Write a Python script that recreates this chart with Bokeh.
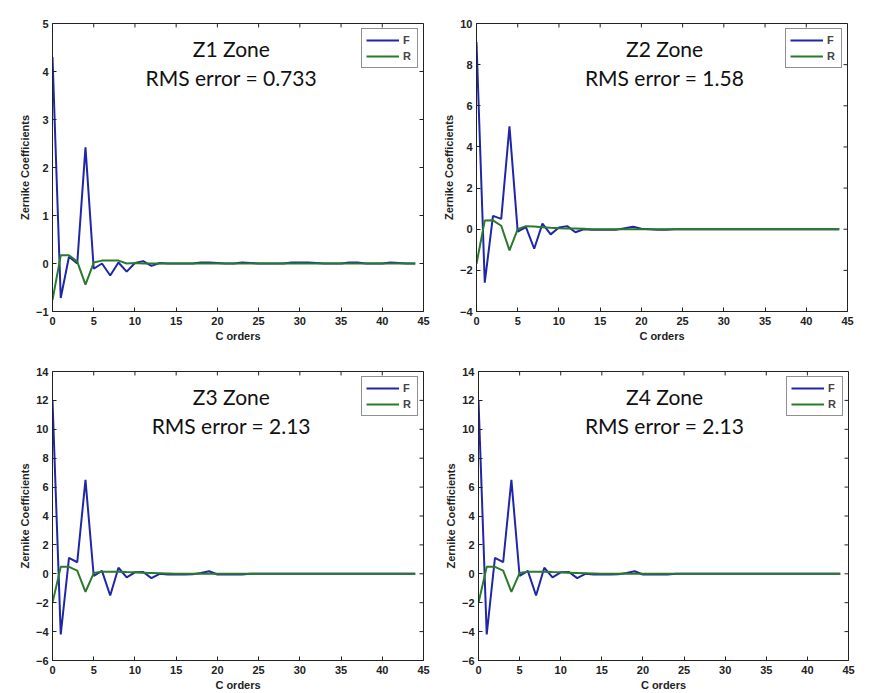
from bokeh.plotting import figure
from bokeh.layouts import column, row
from bokeh.models import Range1d, FixedTicker, Label
from bokeh.embed import file_html
from bokeh.resources import INLINE

# ---------------- data ----------------
c_orders = list(range(45))
x_ticks = [0, 5, 10, 15, 20, 25, 30, 35, 40, 45]

z1_F = [4.30, -0.72, 0.14, 0.00, 2.42, -0.11, 0.00, -0.25, 0.02, -0.17,
        0.01, 0.05, -0.05, 0.01, 0.00, 0.00, 0.00, 0.00, 0.02, 0.02,
        0.01, 0.00, 0.00, 0.02, 0.01, 0.00, 0.00, 0.00, 0.00, 0.02,
        0.02, 0.02, 0.01, 0.00, 0.00, 0.00, 0.02, 0.02, 0.00, 0.00,
        0.00, 0.02, 0.01, 0.00, 0.00]
z1_R = [-0.76, 0.17, 0.17, 0.04, -0.44, 0.02, 0.06, 0.06, 0.06, 0.00,
        0.01, 0.00, 0.00, 0.00, 0.00, 0.00, 0.00, 0.00, 0.00, 0.00,
        0.00, 0.00, 0.00, 0.00, 0.00, 0.00, 0.00, 0.00, 0.00, 0.00,
        0.00, 0.00, 0.00, 0.00, 0.00, 0.00, 0.00, 0.00, 0.00, 0.00,
        0.00, 0.00, 0.00, 0.00, 0.00]

z2_F = [9.10, -2.60, 0.65, 0.50, 5.00, -0.12, 0.10, -0.95, 0.27, -0.25,
        0.08, 0.15, -0.15, 0.00, -0.03, -0.03, -0.03, -0.02, 0.05, 0.12,
        0.02, 0.00, -0.03, -0.03, 0.00, 0.00, 0.00, 0.00, 0.00, 0.00,
        0.00, 0.00, 0.00, 0.00, 0.00, 0.00, 0.00, 0.00, 0.00, 0.00,
        0.00, 0.00, 0.00, 0.00, 0.00]
z2_R = [-1.68, 0.42, 0.43, 0.17, -1.03, 0.00, 0.15, 0.13, 0.10, 0.07,
        0.05, 0.04, 0.03, 0.02, 0.00, 0.00, 0.00, 0.00, 0.00, 0.00,
        0.00, 0.00, 0.00, 0.00, 0.00, 0.00, 0.00, 0.00, 0.00, 0.00,
        0.00, 0.00, 0.00, 0.00, 0.00, 0.00, 0.00, 0.00, 0.00, 0.00,
        0.00, 0.00, 0.00, 0.00, 0.00]

z3_F = [12.00, -4.20, 1.10, 0.80, 6.50, -0.15, 0.20, -1.50, 0.42, -0.25,
        0.10, 0.12, -0.30, 0.00, -0.05, -0.05, -0.05, -0.03, 0.05, 0.18,
        -0.05, -0.05, -0.05, -0.05, 0.00, 0.00, 0.00, 0.00, 0.00, 0.00,
        0.00, 0.00, 0.00, 0.00, 0.00, 0.00, 0.00, 0.00, 0.00, 0.00,
        0.00, 0.00, 0.00, 0.00, 0.00]
z3_R = [-2.00, 0.48, 0.48, 0.22, -1.25, 0.05, 0.15, 0.15, 0.15, 0.12,
        0.10, 0.08, 0.06, 0.04, 0.02, 0.00, 0.00, 0.00, 0.00, 0.00,
        0.00, 0.00, 0.00, 0.00, 0.00, 0.00, 0.00, 0.00, 0.00, 0.00,
        0.00, 0.00, 0.00, 0.00, 0.00, 0.00, 0.00, 0.00, 0.00, 0.00,
        0.00, 0.00, 0.00, 0.00, 0.00]

z4_F = [12.00, -4.20, 1.10, 0.80, 6.50, -0.15, 0.20, -1.50, 0.42, -0.25,
        0.10, 0.12, -0.30, 0.00, -0.05, -0.05, -0.05, -0.03, 0.05, 0.18,
        -0.05, -0.05, -0.05, -0.05, 0.00, 0.00, 0.00, 0.00, 0.00, 0.00,
        0.00, 0.00, 0.00, 0.00, 0.00, 0.00, 0.00, 0.00, 0.00, 0.00,
        0.00, 0.00, 0.00, 0.00, 0.00]
z4_R = [-2.00, 0.48, 0.48, 0.22, -1.25, 0.05, 0.15, 0.15, 0.15, 0.12,
        0.10, 0.08, 0.06, 0.04, 0.02, 0.00, 0.00, 0.00, 0.00, 0.00,
        0.00, 0.00, 0.00, 0.00, 0.00, 0.00, 0.00, 0.00, 0.00, 0.00,
        0.00, 0.00, 0.00, 0.00, 0.00, 0.00, 0.00, 0.00, 0.00, 0.00,
        0.00, 0.00, 0.00, 0.00, 0.00]

zone_titles = ["Z1 Zone", "Z2 Zone", "Z3 Zone", "Z4 Zone"]
rms_texts = ["RMS error = 0.733", "RMS error = 1.58", "RMS error = 2.13", "RMS error = 2.13"]
y_ticks_z1 = [-1, 0, 1, 2, 3, 4, 5]
y_ticks_z2 = [-4, -2, 0, 2, 4, 6, 8, 10]
y_ticks_z34 = [-6, -4, -2, 0, 2, 4, 6, 8, 10, 12, 14]

F_COLOR = "#1f27a8"
R_COLOR = "#2b7a2b"
AX_COLOR = "#222222"
AX_FONT = "Liberation Sans"
TICK_PX = 4


def style_axis(ax, ticks):
    ax.ticker = FixedTicker(ticks=ticks)
    ax.major_tick_in = TICK_PX
    ax.major_tick_out = 0
    ax.minor_tick_line_color = None
    ax.axis_line_color = AX_COLOR
    ax.major_tick_line_color = AX_COLOR
    ax.major_label_text_font = AX_FONT
    ax.major_label_text_font_style = "bold"
    ax.major_label_text_font_size = "11px"
    ax.major_label_text_color = AX_COLOR
    ax.axis_label_text_font = AX_FONT
    ax.axis_label_text_font_style = "bold"
    ax.axis_label_text_font_size = "11px"
    ax.axis_label_text_color = AX_COLOR


def make_panel(F, R, ymin, ymax, yticks, title, rms, w, h, bl, br, bt, bb, tx_frac):
    p = figure(width=w, height=h, x_range=Range1d(0, 45), y_range=Range1d(ymin, ymax),
               output_backend="svg", toolbar_location=None,
               min_border_left=bl, min_border_right=br, min_border_top=bt, min_border_bottom=bb)
    p.xgrid.grid_line_color = None
    p.ygrid.grid_line_color = None
    p.outline_line_color = AX_COLOR
    p.background_fill_color = "white"
    p.border_fill_color = "white"

    style_axis(p.xaxis[0], x_ticks)
    style_axis(p.yaxis[0], yticks)
    p.xaxis[0].axis_label = "C orders"
    p.yaxis[0].axis_label = "Zernike Coefficients"
    p.xaxis[0].major_label_standoff = 5
    p.xaxis[0].axis_label_standoff = 2
    p.yaxis[0].major_label_standoff = 4
    p.yaxis[0].axis_label_standoff = 2

    # inward tick marks on the top and right edges of the box (Matlab style)
    frame_w = w - bl - br
    frame_h = h - bt - bb
    span = ymax - ymin
    dy = TICK_PX / frame_h * span
    dx = TICK_PX / frame_w * 45
    p.segment(x0=x_ticks, y0=[ymax] * len(x_ticks), x1=x_ticks, y1=[ymax - dy] * len(x_ticks),
              line_color=AX_COLOR, line_width=1)
    p.segment(x0=[45] * len(yticks), y0=yticks, x1=[45 - dx] * len(yticks), y1=yticks,
              line_color=AX_COLOR, line_width=1)

    p.line(c_orders, F, line_color=F_COLOR, line_width=2, legend_label="F")
    p.line(c_orders, R, line_color=R_COLOR, line_width=2, legend_label="R")

    lg = p.legend[0]
    lg.location = "top_right"
    lg.margin = 5
    lg.padding = 4
    lg.spacing = 2
    lg.glyph_width = 33
    lg.glyph_height = 14
    lg.label_height = 14
    lg.label_width = 10
    lg.label_standoff = 4
    lg.label_text_font = AX_FONT
    lg.label_text_font_style = "bold"
    lg.label_text_font_size = "11px"
    lg.border_line_color = AX_COLOR
    lg.border_line_width = 1

    xc = tx_frac * 45
    p.add_layout(Label(x=xc, y=ymax - 0.088 * span, text=title, text_align="center",
                       text_baseline="middle", text_font="Lato", text_font_size="21px",
                       text_color="#111111"))
    p.add_layout(Label(x=xc, y=ymax - 0.188 * span, text=rms, text_align="center",
                       text_baseline="middle", text_font="Lato", text_font_size="21px",
                       text_color="#111111"))
    return p


p1 = make_panel(z1_F, z1_R, -1, 5, y_ticks_z1, zone_titles[0], rms_texts[0],
                435, 344, 52, 12, 20, 32, 0.482)
p2 = make_panel(z2_F, z2_R, -4, 10, y_ticks_z2, zone_titles[1], rms_texts[1],
                428, 344, 41, 16, 23, 31, 0.507)
p3 = make_panel(z3_F, z3_R, -6, 14, y_ticks_z34, zone_titles[2], rms_texts[2],
                435, 349, 52, 12, 27, 31, 0.482)
p4 = make_panel(z4_F, z4_R, -6, 14, y_ticks_z34, zone_titles[3], rms_texts[3],
                428, 349, 43, 15, 26, 32, 0.503)

layout = column(row(p1, p2), row(p3, p4))

open("out.html", "w").write(file_html(layout, INLINE))
